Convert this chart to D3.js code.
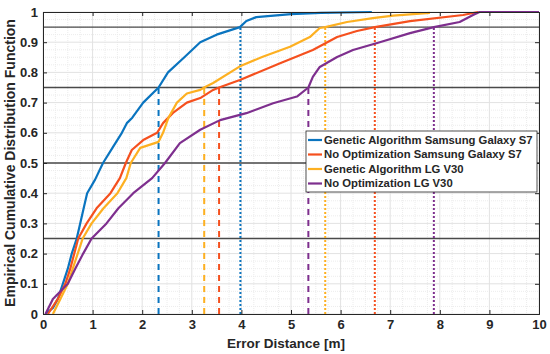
<!DOCTYPE html>
<html>
<head>
<meta charset="utf-8">
<script src="https://cdn.jsdelivr.net/npm/d3@7"></script>
<style>
  body { margin: 0; background: #fff; }
  text { font-family: "Liberation Sans", Arial, sans-serif; font-weight: bold; fill: #262626; }
</style>
</head>
<body>
<div id="chart"></div>
<script>
// ECDF curves: [error distance, cumulative probability]
const gaS7 = [[0.05,0],[0.2,0.02],[0.3,0.05],[0.4,0.1],[0.5,0.15],[0.58,0.2],[0.68,0.25],[0.75,0.3],[0.82,0.35],[0.89,0.4],[1.05,0.445],[1.21,0.5],[1.4,0.55],[1.59,0.6],[1.69,0.632],[1.8,0.65],[2.02,0.7],[2.33,0.75],[2.52,0.8],[2.85,0.85],[3.17,0.9],[3.5,0.925],[3.97,0.95],[4.1,0.97],[4.3,0.983],[5.0,0.993],[5.6,0.997],[6.63,1.0]];
const noS7 = [[0.1,0],[0.3,0.05],[0.45,0.1],[0.55,0.15],[0.63,0.2],[0.71,0.25],[0.88,0.3],[1.08,0.35],[1.36,0.4],[1.55,0.45],[1.67,0.5],[1.79,0.543],[2.02,0.576],[2.3,0.6],[2.42,0.632],[2.62,0.666],[2.9,0.7],[3.17,0.715],[3.43,0.742],[3.55,0.75],[3.97,0.775],[4.78,0.83],[5.44,0.874],[5.93,0.917],[6.33,0.937],[6.69,0.95],[7.4,0.97],[8.47,0.99],[8.77,1.0]];
const gaLG = [[0.2,0],[0.35,0.05],[0.5,0.1],[0.6,0.15],[0.7,0.2],[0.8,0.25],[0.98,0.3],[1.22,0.35],[1.5,0.4],[1.68,0.45],[1.77,0.5],[1.96,0.55],[2.33,0.57],[2.42,0.6],[2.53,0.65],[2.7,0.7],[2.9,0.73],[3.17,0.742],[3.25,0.75],[3.43,0.765],[3.97,0.82],[4.43,0.852],[4.98,0.885],[5.38,0.917],[5.58,0.947],[5.69,0.95],[6.13,0.967],[6.65,0.98],[7.06,0.988],[7.8,0.997]];
const noLG = [[0.05,0],[0.2,0.05],[0.5,0.1],[0.65,0.15],[0.81,0.2],[0.98,0.25],[1.28,0.3],[1.52,0.35],[1.82,0.4],[2.2,0.45],[2.46,0.5],[2.76,0.566],[3.17,0.61],[3.57,0.642],[4.1,0.665],[4.64,0.698],[5.12,0.72],[5.35,0.75],[5.44,0.785],[5.58,0.818],[5.93,0.851],[6.25,0.874],[6.79,0.9],[7.4,0.93],[7.88,0.95],[8.4,0.967],[8.67,0.99],[8.8,1.0],[10,1.0]];

const seriesNames = ["Genetic Algorithm Samsung Galaxy S7", "No Optimization Samsung Galaxy S7", "Genetic Algorithm LG V30", "No Optimization LG V30"];
const seriesColors = ["#0a74bf", "#f5501e", "#fdb021", "#7e2f8e"];
const p75 = [2.33, 3.55, 3.25, 5.35];   // dashed markers up to 0.75
const p95 = [3.98, 6.69, 5.69, 7.88];   // dotted markers up to 0.95
const refLevels = [0.25, 0.5, 0.75, 0.95];
const xTicks = d3.range(0, 11, 1);
const yTicks = d3.range(0, 1.01, 0.1).map(v => +v.toFixed(1));

const margin = { top: 12, right: 11, bottom: 40, left: 43 },
    width = 550 - margin.left - margin.right,
    height = 354 - margin.top - margin.bottom;

const svg = d3.select("#chart").append("svg")
    .attr("width", 550).attr("height", 354)
    .append("g")
    .attr("transform", `translate(${margin.left},${margin.top})`);

const x = d3.scaleLinear().domain([0, 10]).range([0, width]);
const y = d3.scaleLinear().domain([0, 1]).range([height, 0]);

// minor + major grid
svg.append("g").selectAll("line")
    .data(d3.range(0, 10.01, 0.25).filter(v => v % 1 !== 0))
    .join("line")
    .attr("x1", d => x(d)).attr("x2", d => x(d))
    .attr("y1", 0).attr("y2", height)
    .attr("stroke", "#ececec").attr("stroke-dasharray", "1,1");
svg.append("g").selectAll("line")
    .data(d3.range(0, 1.001, 0.025).filter(v => Math.abs(v * 10 - Math.round(v * 10)) > 1e-6))
    .join("line")
    .attr("y1", d => y(d)).attr("y2", d => y(d))
    .attr("x1", 0).attr("x2", width)
    .attr("stroke", "#ececec").attr("stroke-dasharray", "1,1");
svg.append("g").selectAll("line")
    .data(xTicks)
    .join("line")
    .attr("x1", d => x(d)).attr("x2", d => x(d))
    .attr("y1", 0).attr("y2", height)
    .attr("stroke", "#e2e2e2");
svg.append("g").selectAll("line")
    .data(yTicks)
    .join("line")
    .attr("y1", d => y(d)).attr("y2", d => y(d))
    .attr("x1", 0).attr("x2", width)
    .attr("stroke", "#e2e2e2");

// reference levels
svg.append("g").selectAll("line")
    .data(refLevels)
    .join("line")
    .attr("x1", 0).attr("x2", width)
    .attr("y1", d => y(d)).attr("y2", d => y(d))
    .attr("stroke", "#4a4a4a").attr("stroke-width", 1.3);

// percentile markers
svg.append("g").selectAll("line")
    .data(p75)
    .join("line")
    .attr("x1", d => x(d)).attr("x2", d => x(d))
    .attr("y1", y(0)).attr("y2", y(0.75))
    .attr("stroke", (d, i) => seriesColors[i])
    .attr("stroke-width", 2)
    .attr("stroke-dasharray", "6,5");
svg.append("g").selectAll("line")
    .data(p95)
    .join("line")
    .attr("x1", d => x(d)).attr("x2", d => x(d))
    .attr("y1", y(0)).attr("y2", y(0.95))
    .attr("stroke", (d, i) => seriesColors[i])
    .attr("stroke-width", 2)
    .attr("stroke-dasharray", "2,2");

// curves
const line = d3.line().x(d => x(d[0])).y(d => y(d[1]));
[gaS7, noS7, gaLG, noLG].forEach((s, i) => {
    svg.append("path")
        .datum(s)
        .attr("d", line)
        .attr("fill", "none")
        .attr("stroke", seriesColors[i])
        .attr("stroke-width", 2.2)
        .attr("stroke-linejoin", "round");
});

// axes (ticks inside, box)
svg.append("g")
    .attr("transform", `translate(0,${height})`)
    .call(d3.axisBottom(x).tickValues(xTicks).tickSize(-4).tickPadding(6).tickFormat(d3.format("d")));
svg.append("g")
    .call(d3.axisLeft(y).tickValues(yTicks).tickSize(-4).tickPadding(5).tickFormat(d => d === 0 || d === 1 ? d3.format("d")(d) : d3.format(".1f")(d)));
svg.append("g")
    .attr("transform", `translate(${width},0)`)
    .call(d3.axisRight(y).tickValues(yTicks).tickSize(-4).tickFormat(""));
svg.append("g")
    .call(d3.axisTop(x).tickValues(xTicks).tickSize(-4).tickFormat(""));
svg.selectAll(".domain").attr("stroke", "#262626");
svg.selectAll(".tick line").attr("stroke", "#262626");
svg.selectAll(".tick text").style("font-size", "13px").style("font-family", "Liberation Sans, Arial, sans-serif").style("font-weight", "bold").attr("fill", "#262626");

// axis labels
svg.append("text")
    .attr("x", width / 2 - 5)
    .attr("y", height + 34)
    .attr("text-anchor", "middle")
    .style("font-size", "13.5px")
    .text("Error Distance [m]");
svg.append("text")
    .attr("transform", "rotate(-90)")
    .attr("x", -height / 2)
    .attr("y", -margin.left + 15)
    .attr("text-anchor", "middle")
    .style("font-size", "14px")
    .text("Empirical Cumulative Distribution Function");

// legend
const lg = svg.append("g").attr("transform", `translate(${306 - margin.left},${131 - margin.top})`);
lg.append("rect")
    .attr("width", 231).attr("height", 61)
    .attr("fill", "#fff").attr("stroke", "#262626").attr("stroke-width", 0.8);
seriesNames.forEach((name, i) => {
    const row = lg.append("g").attr("transform", `translate(0,${9 + i * 14.5})`);
    row.append("line")
        .attr("x1", 2).attr("x2", 16)
        .attr("stroke", seriesColors[i]).attr("stroke-width", 2.2);
    row.append("text")
        .attr("x", 18).attr("dy", "0.35em")
        .style("font-size", "11.3px")
        .text(name);
});
</script>
</body>
</html>
